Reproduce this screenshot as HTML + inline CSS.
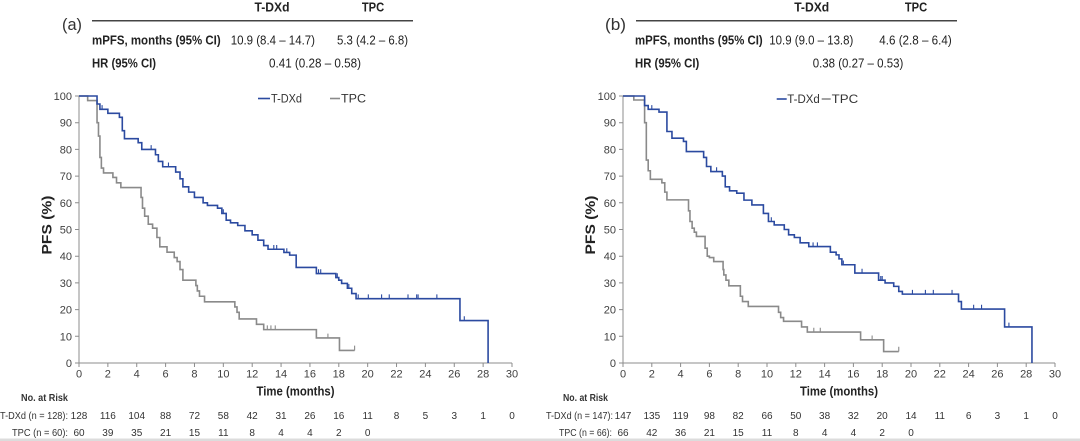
<!DOCTYPE html>
<html><head><meta charset="utf-8"><style>
html,body{margin:0;padding:0;background:#fff;}
svg{display:block;font-family:"Liberation Sans",Arial,sans-serif;}
.tk{font-size:11px;fill:#404040;}
.bold{font-weight:bold;}
.hd{font-size:13px;fill:#222;}
.ar{font-size:10px;fill:#333;}
.lg{font-size:11.5px;fill:#333;}
</style></head><body>
<svg width="1080" height="441" viewBox="0 0 1080 441" xmlns="http://www.w3.org/2000/svg">
<rect width="1080" height="441" fill="#fff"/>
<rect x="0" y="438.5" width="1080" height="2.5" fill="#dcdcdc"/>

<!-- ================= LEFT PANEL ================= -->
<text x="62" y="30" font-size="17" fill="#333" textLength="20" lengthAdjust="spacingAndGlyphs">(a)</text>
<line x1="92" y1="20.7" x2="413" y2="20.7" stroke="#444" stroke-width="1.5"/>
<text class="hd bold" x="272" y="11.5" text-anchor="middle" textLength="35" lengthAdjust="spacingAndGlyphs">T-DXd</text>
<text class="hd bold" x="373" y="11.5" text-anchor="middle" textLength="22.3" lengthAdjust="spacingAndGlyphs">TPC</text>
<text class="hd bold" x="92" y="44.5" textLength="128.7" lengthAdjust="spacingAndGlyphs">mPFS, months (95% CI)</text>
<text class="hd" x="230.7" y="44.5" textLength="84.3" lengthAdjust="spacingAndGlyphs">10.9 (8.4 – 14.7)</text>
<text class="hd" x="337" y="44.5" textLength="71" lengthAdjust="spacingAndGlyphs">5.3 (4.2 – 6.8)</text>
<text class="hd bold" x="92" y="67.5" textLength="64" lengthAdjust="spacingAndGlyphs">HR (95% CI)</text>
<text class="hd" x="269" y="67.5" textLength="92" lengthAdjust="spacingAndGlyphs">0.41 (0.28 – 0.58)</text>

<!-- legend -->
<line x1="258" y1="98.5" x2="270" y2="98.5" stroke="#2b4aa0" stroke-width="1.6"/>
<text class="lg" x="271" y="102.5" textLength="31" lengthAdjust="spacingAndGlyphs">T-DXd</text>
<line x1="330" y1="98.5" x2="340" y2="98.5" stroke="#8a8a8a" stroke-width="1.6"/>
<text class="lg" x="341" y="102.5" textLength="25" lengthAdjust="spacingAndGlyphs">TPC</text>

<!-- axes -->
<g stroke="#8c8c8c" stroke-width="1" fill="none">
<line x1="79" y1="96" x2="79" y2="363"/>
<line x1="79" y1="363" x2="512" y2="363"/>
<path d="M75,363h4M75,336.3h4M75,309.6h4M75,282.9h4M75,256.2h4M75,229.5h4M75,202.8h4M75,176.1h4M75,149.4h4M75,122.7h4M75,96h7"/>
<path d="M79,363v4M107.87,363v4M136.73,363v4M165.6,363v4M194.47,363v4M223.33,363v4M252.2,363v4M281.07,363v4M309.93,363v4M338.8,363v4M367.67,363v4M396.53,363v4M425.4,363v4M454.27,363v4M483.13,363v4M512,363v4"/>
</g>
<g class="tk" text-anchor="end">
<text x="72" y="367">0</text><text x="72" y="340.3">10</text><text x="72" y="313.6">20</text><text x="72" y="286.9">30</text><text x="72" y="260.2">40</text><text x="72" y="233.5">50</text><text x="72" y="206.8">60</text><text x="72" y="180.1">70</text><text x="72" y="153.4">80</text><text x="72" y="126.7">90</text><text x="72" y="100">100</text>
</g>
<g class="tk" text-anchor="middle">
<text x="79" y="377.5">0</text><text x="107.87" y="377.5">2</text><text x="136.73" y="377.5">4</text><text x="165.6" y="377.5">6</text><text x="194.47" y="377.5">8</text><text x="223.33" y="377.5">10</text><text x="252.2" y="377.5">12</text><text x="281.07" y="377.5">14</text><text x="309.93" y="377.5">16</text><text x="338.8" y="377.5">18</text><text x="367.67" y="377.5">20</text><text x="396.53" y="377.5">22</text><text x="425.4" y="377.5">24</text><text x="454.27" y="377.5">26</text><text x="483.13" y="377.5">28</text><text x="512" y="377.5">30</text>
</g>
<text x="295.5" y="395.5" font-size="13" font-weight="bold" fill="#222" text-anchor="middle" textLength="78" lengthAdjust="spacingAndGlyphs">Time (months)</text>
<text transform="translate(51.5,225) rotate(-90)" font-size="14" font-weight="bold" fill="#222" text-anchor="middle" textLength="59" lengthAdjust="spacingAndGlyphs">PFS (%)</text>

<!-- curves left -->
<g transform="translate(79,363) scale(14.43,-2.67)" fill="none">
<path vector-effect="non-scaling-stroke" stroke="#8a8a8a" stroke-width="1.6" d="M0,100 H0.6 V98.3 H1.25 V90 H1.35 V85 H1.45 V77 H1.55 V73 H1.7 V71.2 H2.35 V69.5 H2.6 V67.5 H2.9 V65.7 H4.3 V62 H4.4 V58 H4.55 V55 H4.8 V52 H5.1 V50.5 H5.4 V47 H5.6 V43.5 H6.1 V41.5 H6.6 V39.5 H6.8 V38 H7.0 V35 H7.2 V31 H8.1 V29 H8.2 V27 H8.35 V25 H8.7 V22.9 H10.8 V21 H10.95 V19 H11.1 V16.5 H12.3 V14.5 H12.8 V12.5 H16.45 V9.4 H18.05 V4.7 H19.1"/>
<path vector-effect="non-scaling-stroke" stroke="#8a8a8a" stroke-width="1.1" d="M13.05,12.5v1.6M13.3,12.5v1.6M13.6,12.5v1.6M17.25,9.4v1.6M19.1,4.7v1.8"/>
<path vector-effect="non-scaling-stroke" stroke="#2b4aa0" stroke-width="1.6" d="M0,100 H1.25 V97 H1.45 V95 H2.0 V93.5 H2.8 V92 H3.0 V87 H3.15 V84 H4.1 V82.5 H4.35 V80 H5.3 V78 H5.5 V75.5 H5.8 V73.5 H6.7 V71.5 H7.0 V69 H7.2 V66 H7.6 V64 H8.0 V62 H8.6 V60 H8.9 V59 H9.6 V58 H9.9 V56 H10.2 V53.5 H10.5 V52.5 H11.0 V51.5 H11.5 V49.5 H12.0 V48 H12.4 V46 H12.8 V44 H13.1 V42.6 H14.2 V41.4 H14.6 V40.4 H15.05 V35.8 H16.45 V33.5 H17.8 V32 H18.0 V31 H18.2 V29.8 H18.6 V28 H18.9 V26 H19.2 V24.1 H26.4 V15.9 H28.35 V0"/>
<path vector-effect="non-scaling-stroke" stroke="#2b4aa0" stroke-width="1.1" d="M1.6,95v1.6M5.0,80v1.6M6.2,73.5v1.6M10.0,56v1.6M13.5,42.6v1.6M13.7,42.6v1.6M14.4,41.4v1.6M16.6,33.5v1.6M16.75,33.5v1.6M17.9,32v1.6M18.7,28v1.6M19.35,24.1v1.6M20.05,24.1v1.6M20.97,24.1v1.6M21.5,24.1v1.6M22.8,24.1v1.6M23.4,24.1v1.6M23.5,24.1v1.6M24.8,24.1v1.6M26.7,15.9v1.6"/>
</g>

<!-- at risk left -->
<text class="ar bold" x="21" y="401" textLength="47" lengthAdjust="spacingAndGlyphs">No. at Risk</text>
<text class="ar" x="0" y="419" textLength="68" lengthAdjust="spacingAndGlyphs">T-DXd (n = 128):</text>
<text class="ar" x="12" y="436" textLength="56" lengthAdjust="spacingAndGlyphs">TPC (n = 60):</text>
<g class="ar" text-anchor="middle">
<text x="79" y="419">128</text><text x="107.87" y="419">116</text><text x="136.73" y="419">104</text><text x="165.6" y="419">88</text><text x="194.47" y="419">72</text><text x="223.33" y="419">58</text><text x="252.2" y="419">42</text><text x="281.07" y="419">31</text><text x="309.93" y="419">26</text><text x="338.8" y="419">16</text><text x="367.67" y="419">11</text><text x="396.53" y="419">8</text><text x="425.4" y="419">5</text><text x="454.27" y="419">3</text><text x="483.13" y="419">1</text><text x="512" y="419">0</text>
<text x="79" y="436">60</text><text x="107.87" y="436">39</text><text x="136.73" y="436">35</text><text x="165.6" y="436">21</text><text x="194.47" y="436">15</text><text x="223.33" y="436">11</text><text x="252.2" y="436">8</text><text x="281.07" y="436">4</text><text x="309.93" y="436">4</text><text x="338.8" y="436">2</text><text x="367.67" y="436">0</text>
</g>

<!-- ================= RIGHT PANEL ================= -->
<text x="605" y="30" font-size="17" fill="#333" textLength="21" lengthAdjust="spacingAndGlyphs">(b)</text>
<line x1="636" y1="20.7" x2="957" y2="20.7" stroke="#444" stroke-width="1.5"/>
<text class="hd bold" x="811.7" y="11.5" text-anchor="middle" textLength="35" lengthAdjust="spacingAndGlyphs">T-DXd</text>
<text class="hd bold" x="916" y="11.5" text-anchor="middle" textLength="22.3" lengthAdjust="spacingAndGlyphs">TPC</text>
<text class="hd bold" x="635" y="44.5" textLength="127.7" lengthAdjust="spacingAndGlyphs">mPFS, months (95% CI)</text>
<text class="hd" x="769.3" y="44.5" textLength="84" lengthAdjust="spacingAndGlyphs">10.9 (9.0 – 13.8)</text>
<text class="hd" x="879.3" y="44.5" textLength="72.4" lengthAdjust="spacingAndGlyphs">4.6 (2.8 – 6.4)</text>
<text class="hd bold" x="635" y="67.5" textLength="64.3" lengthAdjust="spacingAndGlyphs">HR (95% CI)</text>
<text class="hd" x="812.7" y="67.5" textLength="90.6" lengthAdjust="spacingAndGlyphs">0.38 (0.27 – 0.53)</text>

<!-- legend -->
<line x1="776.7" y1="99" x2="786.7" y2="99" stroke="#2b4aa0" stroke-width="1.6"/>
<text class="lg" x="787.3" y="103" textLength="32.5" lengthAdjust="spacingAndGlyphs">T-DXd</text>
<line x1="821.7" y1="99" x2="830.7" y2="99" stroke="#8a8a8a" stroke-width="1.6"/>
<text class="lg" x="831.7" y="103" textLength="26.5" lengthAdjust="spacingAndGlyphs">TPC</text>

<!-- axes -->
<g stroke="#8c8c8c" stroke-width="1" fill="none">
<line x1="623" y1="96" x2="623" y2="363"/>
<line x1="623" y1="363" x2="1055" y2="363"/>
<path d="M619,363h4M619,336.3h4M619,309.6h4M619,282.9h4M619,256.2h4M619,229.5h4M619,202.8h4M619,176.1h4M619,149.4h4M619,122.7h4M619,96h7"/>
<path d="M623,363v4M651.8,363v4M680.6,363v4M709.4,363v4M738.2,363v4M767,363v4M795.8,363v4M824.6,363v4M853.4,363v4M882.2,363v4M911,363v4M939.8,363v4M968.6,363v4M997.4,363v4M1026.2,363v4M1055,363v4"/>
</g>
<g class="tk" text-anchor="end">
<text x="616" y="367">0</text><text x="616" y="340.3">10</text><text x="616" y="313.6">20</text><text x="616" y="286.9">30</text><text x="616" y="260.2">40</text><text x="616" y="233.5">50</text><text x="616" y="206.8">60</text><text x="616" y="180.1">70</text><text x="616" y="153.4">80</text><text x="616" y="126.7">90</text><text x="616" y="100">100</text>
</g>
<g class="tk" text-anchor="middle">
<text x="623" y="377.5">0</text><text x="651.8" y="377.5">2</text><text x="680.6" y="377.5">4</text><text x="709.4" y="377.5">6</text><text x="738.2" y="377.5">8</text><text x="767" y="377.5">10</text><text x="795.8" y="377.5">12</text><text x="824.6" y="377.5">14</text><text x="853.4" y="377.5">16</text><text x="882.2" y="377.5">18</text><text x="911" y="377.5">20</text><text x="939.8" y="377.5">22</text><text x="968.6" y="377.5">24</text><text x="997.4" y="377.5">26</text><text x="1026.2" y="377.5">28</text><text x="1055" y="377.5">30</text>
</g>
<text x="839" y="395.5" font-size="13" font-weight="bold" fill="#222" text-anchor="middle" textLength="78" lengthAdjust="spacingAndGlyphs">Time (months)</text>
<text transform="translate(595,225) rotate(-90)" font-size="14" font-weight="bold" fill="#222" text-anchor="middle" textLength="59" lengthAdjust="spacingAndGlyphs">PFS (%)</text>

<!-- curves right -->
<g transform="translate(623,363) scale(14.4,-2.67)" fill="none">
<path vector-effect="non-scaling-stroke" stroke="#8a8a8a" stroke-width="1.6" d="M0,100 H0.75 V98.5 H1.5 V90 H1.62 V76 H1.75 V72 H1.9 V68.8 H2.7 V67.5 H2.9 V64 H3.05 V61.1 H4.55 V57 H4.65 V53 H4.8 V50.5 H4.95 V49 H5.1 V47.4 H5.7 V43 H5.85 V40 H6.0 V39.5 H6.3 V38 H6.95 V35 H7.0 V33 H7.15 V31 H7.35 V28.9 H8.15 V25 H8.3 V23 H8.7 V21.2 H10.8 V19 H10.95 V17 H11.15 V15.6 H12.4 V13.5 H12.8 V11.6 H16.5 V8.7 H18.1 V4.3 H19.15"/>
<path vector-effect="non-scaling-stroke" stroke="#8a8a8a" stroke-width="1.1" d="M13.25,11.6v1.6M13.7,11.6v1.6M17.3,8.7v1.6M19.15,4.3v1.8"/>
<path vector-effect="non-scaling-stroke" stroke="#2b4aa0" stroke-width="1.6" d="M0,100 H1.5 V96.4 H1.75 V95 H2.5 V94 H3.05 V86.7 H3.4 V84.2 H4.2 V83 H4.4 V79.2 H5.6 V77 H5.8 V73.6 H6.1 V71.7 H6.9 V70 H7.1 V66 H7.4 V64.5 H7.9 V63.6 H8.4 V61 H8.95 V59.2 H9.75 V56 H10.1 V53 H10.5 V51.7 H11.2 V50 H11.5 V48 H11.9 V47 H12.3 V45 H12.9 V43.6 H14.4 V41.5 H14.8 V40.5 H15.0 V39 H15.2 V36.8 H16.1 V33.7 H17.75 V31 H18.2 V30 H18.8 V28.7 H19.15 V26.8 H19.4 V25.8 H23.3 V23 H23.5 V20.2 H26.5 V13.5 H28.4 V0"/>
<path vector-effect="non-scaling-stroke" stroke="#2b4aa0" stroke-width="1.1" d="M2.0,95v1.6M6.5,71.7v1.6M10.3,53v1.6M13.2,43.6v1.6M13.5,43.6v1.6M15.3,36.8v1.6M16.6,33.7v1.6M17.9,31v1.6M18.0,31v1.6M20.1,25.8v1.6M21.0,25.8v1.6M21.55,25.8v1.6M22.85,25.8v1.6M24.35,20.2v1.6M24.9,20.2v1.6M26.8,13.5v1.6"/>
</g>

<!-- at risk right -->
<text class="ar bold" x="563" y="401" textLength="45" lengthAdjust="spacingAndGlyphs">No. at Risk</text>
<text class="ar" x="546" y="419" textLength="67" lengthAdjust="spacingAndGlyphs">T-DXd (n = 147):</text>
<text class="ar" x="559" y="436" textLength="53" lengthAdjust="spacingAndGlyphs">TPC (n = 66):</text>
<g class="ar" text-anchor="middle">
<text x="623" y="419">147</text><text x="651.8" y="419">135</text><text x="680.6" y="419">119</text><text x="709.4" y="419">98</text><text x="738.2" y="419">82</text><text x="767" y="419">66</text><text x="795.8" y="419">50</text><text x="824.6" y="419">38</text><text x="853.4" y="419">32</text><text x="882.2" y="419">20</text><text x="911" y="419">14</text><text x="939.8" y="419">11</text><text x="968.6" y="419">6</text><text x="997.4" y="419">3</text><text x="1026.2" y="419">1</text><text x="1055" y="419">0</text>
<text x="623" y="436">66</text><text x="651.8" y="436">42</text><text x="680.6" y="436">36</text><text x="709.4" y="436">21</text><text x="738.2" y="436">15</text><text x="767" y="436">11</text><text x="795.8" y="436">8</text><text x="824.6" y="436">4</text><text x="853.4" y="436">4</text><text x="882.2" y="436">2</text><text x="911" y="436">0</text>
</g>
</svg>
</body></html>
